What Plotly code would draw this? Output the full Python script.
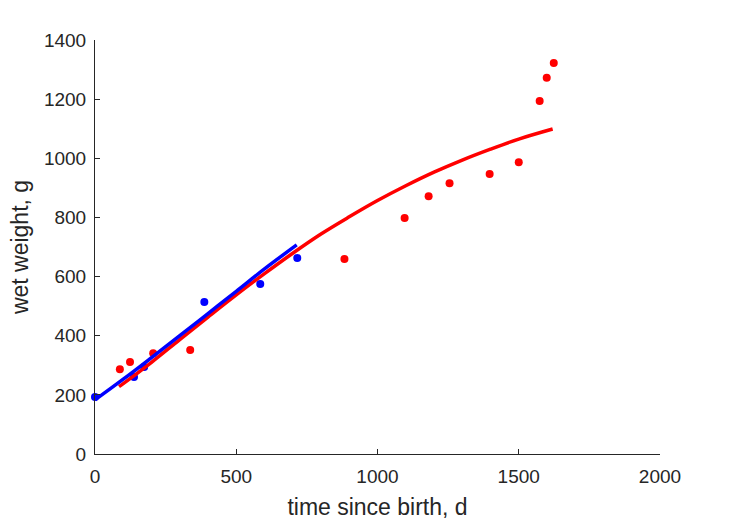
import plotly.graph_objects as go

# observed data (red and blue sets)
red_t = [88, 124, 206, 337, 883, 1096, 1181, 1255, 1397, 1500, 1574, 1599, 1624]
red_w = [287, 311, 341, 352, 659, 798, 872, 916, 947, 987, 1194, 1272, 1322]
blue_t = [0, 138, 174, 387, 585, 716]
blue_w = [193, 260, 294, 514, 575, 663]

# fitted curves
red_fit_t = [85, 100, 200, 300, 400, 500, 600, 700, 800, 900, 1000, 1100, 1200, 1300, 1400, 1500, 1620]
red_fit_w = [228, 238, 310, 387, 463, 538, 610, 679, 744, 802, 857, 907, 953, 994, 1031, 1065, 1099]
blue_fit_t = [0, 100, 200, 300, 400, 500, 600, 714]
blue_fit_w = [183, 253, 326, 400, 475, 550, 626, 707]

x_ticks = [0, 500, 1000, 1500, 2000]
y_ticks = [0, 200, 400, 600, 800, 1000, 1200, 1400]

RED = "rgb(255,0,0)"
BLUE = "rgb(0,0,255)"
AX = "#262626"
FONT = "Liberation Sans, Arial, Helvetica, sans-serif"

fig = go.Figure()
fig.add_trace(go.Scatter(x=red_t, y=red_w, mode="markers",
                         marker=dict(color=RED, size=8), cliponaxis=False, showlegend=False))
fig.add_trace(go.Scatter(x=blue_t, y=blue_w, mode="markers",
                         marker=dict(color=BLUE, size=8), cliponaxis=False, showlegend=False))
fig.add_trace(go.Scatter(x=red_fit_t, y=red_fit_w, mode="lines",
                         line=dict(color=RED, width=3.5, shape="spline"), cliponaxis=False, showlegend=False))
fig.add_trace(go.Scatter(x=blue_fit_t, y=blue_fit_w, mode="lines",
                         line=dict(color=BLUE, width=3.5, shape="spline"), cliponaxis=False, showlegend=False))

fig.update_layout(
    width=729, height=521,
    margin=dict(l=95, r=69, t=40, b=67, autoexpand=False),
    paper_bgcolor="white", plot_bgcolor="white",
    font=dict(family=FONT, color=AX, size=19),
)
fig.update_xaxes(range=[0, 2000], tickvals=x_ticks, ticks="inside", ticklen=5,
                 tickcolor=AX, showline=True, linecolor=AX, linewidth=1,
                 showgrid=False, zeroline=False, tickfont=dict(size=19, color=AX),
                 ticklabelstandoff=5, automargin=False,
                 title=dict(text="time since birth, d", font=dict(size=23, color=AX), standoff=13))
fig.update_yaxes(range=[0, 1400], tickvals=y_ticks, ticks="inside", ticklen=5,
                 tickcolor=AX, showline=True, linecolor=AX, linewidth=1,
                 showgrid=False, zeroline=False, tickfont=dict(size=19, color=AX),
                 ticklabelstandoff=4, automargin=False,
                 title=dict(text="wet weight, g", font=dict(size=23, color=AX), standoff=8))

fig.write_html("out.html")
